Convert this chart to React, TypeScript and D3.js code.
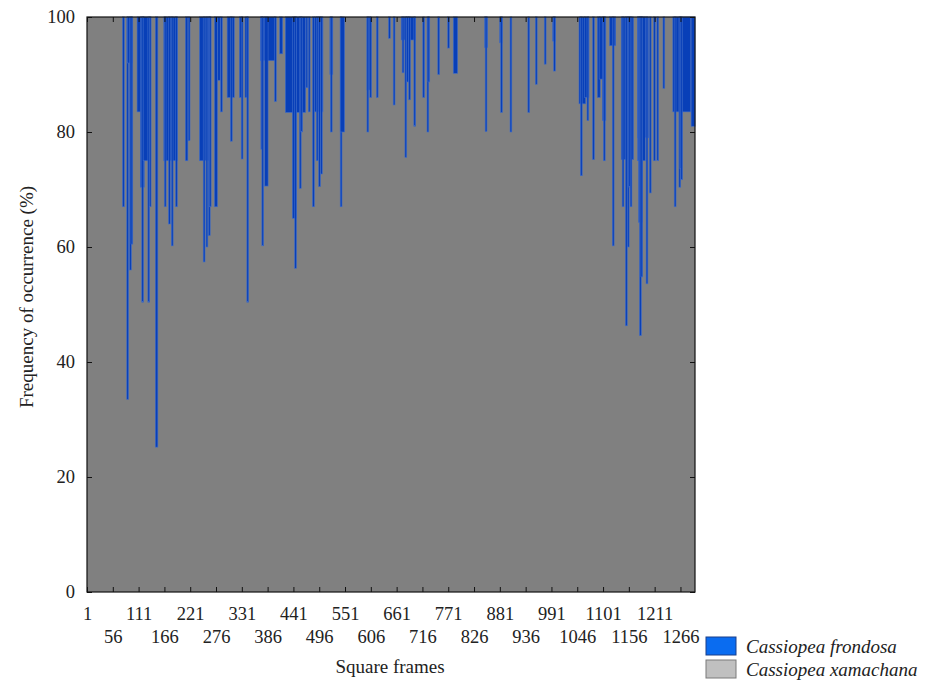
import React, { useEffect, useRef } from "react";
import * as d3 from "d3";

// frondosa runs: first frame, last frame, share of xamachana (%)
const runStart = [78, 87, 89, 93, 96, 109, 116, 119, 122, 132, 135, 148, 166, 167, 176, 182, 191, 212, 218,
  242, 250, 256, 261, 263, 274, 281, 287, 301, 308, 327, 331, 339, 343, 372, 373, 375, 381, 402, 413,
  425, 440, 445, 455, 458, 469, 474, 483, 487, 491, 496, 500, 520, 521, 542, 542,
  599, 599, 605, 619, 645, 655, 672, 674, 680, 683, 688, 699, 718, 727, 729, 750, 771, 783,
  850, 851, 882, 884, 904, 942, 958, 977, 995, 997,
  1051, 1054, 1063, 1068, 1080, 1090, 1094, 1101, 1103, 1116, 1122, 1141, 1143, 1150, 1154, 1157, 1160,
  1176, 1176, 1178, 1180, 1183, 1194, 1201, 1210, 1217, 1230, 1251, 1254, 1264, 1266, 1268, 1290];
const runEnd = [79, 88, 97, 93, 96, 121, 122, 119, 136, 133, 135, 151, 193, 167, 176, 182, 191, 215, 218,
  263, 250, 256, 261, 263, 278, 284, 287, 314, 308, 332, 331, 343, 343, 402, 373, 375, 386, 402, 417,
  466, 446, 445, 455, 458, 469, 474, 483, 503, 491, 496, 500, 524, 521, 542, 549,
  605, 599, 605, 619, 645, 655, 700, 674, 680, 686, 688, 699, 718, 727, 729, 750, 771, 790,
  854, 851, 885, 884, 904, 942, 958, 977, 998, 997,
  1063, 1054, 1070, 1068, 1080, 1094, 1103, 1106, 1103, 1127, 1122, 1165, 1143, 1150, 1154, 1157, 1160,
  1197, 1190, 1184, 1180, 1183, 1194, 1201, 1210, 1217, 1230, 1287, 1254, 1264, 1266, 1268, 1296];
const xamachanaPct = [67, 33.5, 92, 56, 60.5, 83.5, 70.4, 50.4, 75, 50.4, 67, 25.2, 75, 67, 64, 60.2, 67, 75, 78.5,
  75, 57.4, 60, 62, 67, 67, 89, 83.5, 86, 78.4, 86, 75.3, 86, 50.4, 92.4, 77, 60.2, 70.6, 85.3, 93.6,
  83.4, 65, 56.3, 70.2, 80, 87.7, 83.5, 67, 83.5, 75, 70.5, 72.7, 90, 80, 67, 80,
  87.3, 80, 86, 86, 96.3, 84.7, 96, 90.3, 75.6, 88.7, 85.6, 81, 86, 80, 88.7, 90, 94.6, 90.2,
  94.7, 80.1, 95.5, 83.4, 80, 83.4, 88.3, 91.8, 95.8, 90.6,
  84.9, 72.4, 86, 82, 75.2, 86, 89.2, 82, 75, 95, 60.2, 75.2, 67, 46.3, 60, 70.4, 67,
  79, 75, 64.3, 44.6, 54.8, 53.6, 69.4, 75, 75, 87.6, 83.5, 67, 70.4, 73.6, 71.7, 81];

const frameCount = 1296;
const xTickLabels = [1, 56, 111, 166, 221, 276, 331, 386, 441, 496, 551, 606, 661, 716, 771, 826,
  881, 936, 991, 1046, 1101, 1156, 1211, 1266];
const yTickLabels = [0, 20, 40, 60, 80, 100];
const seriesNames = ["Cassiopea frondosa", "Cassiopea xamachana"];

const FONT = "'Liberation Serif', 'Times New Roman', serif";

export default function App() {
  const ref = useRef<SVGSVGElement>(null);

  useEffect(() => {
    const width = 928;
    const height = 681;
    const left = 87, right = 695, top = 17, bottom = 592;

    const svg = d3.select(ref.current).attr("width", width).attr("height", height);
    svg.selectAll("*").remove();

    const x = d3.scaleLinear().domain([1, frameCount + 1]).range([left, right]);
    const y = d3.scaleLinear().domain([0, 100]).range([bottom, top]);

    // xamachana fills every frame up from 0
    svg.append("rect")
      .attr("x", x(1)).attr("y", y(100))
      .attr("width", x(frameCount + 1) - x(1)).attr("height", y(0) - y(100))
      .attr("fill", "#808080");

    const runs = runStart.map((s, i) => ({ s, e: runEnd[i], v: xamachanaPct[i] }));
    svg.append("g").selectAll("rect")
      .data(runs)
      .join("rect")
      .attr("x", d => x(d.s) - 0.6)
      .attr("y", y(100))
      .attr("width", d => Math.max(x(d.e + 1) - x(d.s), 1.2) + 0.6)
      .attr("height", d => y(d.v) - y(100))
      .attr("fill", "#083fb8")
      .attr("stroke", "#3f6cc8")
      .attr("stroke-width", 0.6);

    // inner ticks on all four sides
    const yAxis = svg.append("g").attr("transform", `translate(${left},0)`)
      .call(d3.axisLeft(y).tickValues(yTickLabels).tickSizeInner(-5).tickSizeOuter(0).tickPadding(12));
    yAxis.selectAll("text").attr("font-family", FONT).attr("font-size", 18.5).attr("fill", "#222");

    svg.append("g").attr("transform", `translate(${right},0)`)
      .call(d3.axisRight(y).tickValues(yTickLabels).tickSizeInner(-5).tickSizeOuter(0).tickFormat(() => ""));

    const xAxis = svg.append("g").attr("transform", `translate(0,${bottom})`)
      .call(d3.axisBottom(x).tickValues(xTickLabels).tickSizeInner(-5).tickSizeOuter(0).tickFormat(d3.format("d")));
    xAxis.selectAll("text")
      .attr("font-family", FONT).attr("font-size", 18.5).attr("fill", "#222")
      .attr("dy", null)
      .attr("y", (_d, i) => (i % 2 === 0 ? 28 : 51));

    svg.append("g").attr("transform", `translate(0,${top})`)
      .call(d3.axisTop(x).tickValues(xTickLabels).tickSizeInner(-5).tickSizeOuter(0).tickFormat(() => ""));

    svg.selectAll(".domain").remove();
    svg.selectAll(".tick line").attr("stroke", "#111");

    // plot frame
    svg.append("rect")
      .attr("x", left).attr("y", top)
      .attr("width", right - left).attr("height", bottom - top)
      .attr("fill", "none").attr("stroke", "#111").attr("stroke-width", 1.2);

    // axis titles
    svg.append("text")
      .attr("x", 390).attr("y", 673)
      .attr("text-anchor", "middle")
      .attr("font-family", FONT).attr("font-size", 19).attr("fill", "#222")
      .text("Square frames");

    svg.append("text")
      .attr("transform", `translate(33,297) rotate(-90)`)
      .attr("text-anchor", "middle")
      .attr("font-family", FONT).attr("font-size", 19).attr("fill", "#222")
      .text("Frequency of occurrence (%)");

    // legend
    const legendColors = ["#0a6cf0", "#c0c0c0"];
    const legendStroke = ["#1a3f8a", "#7a7a7a"];
    const legend = svg.append("g");
    seriesNames.forEach((name, i) => {
      legend.append("rect")
        .attr("x", 706).attr("y", 637 + i * 23)
        .attr("width", 30).attr("height", 18)
        .attr("fill", legendColors[i]).attr("stroke", legendStroke[i]).attr("stroke-width", 1);
      legend.append("text")
        .attr("x", 746).attr("y", 653 + i * 23)
        .attr("font-family", FONT).attr("font-size", 19).attr("font-style", "italic").attr("fill", "#222")
        .text(name);
    });
  }, []);

  return (
    <svg ref={ref} style={{ position: "absolute", left: 0, top: 0 }}></svg>
  );
}
